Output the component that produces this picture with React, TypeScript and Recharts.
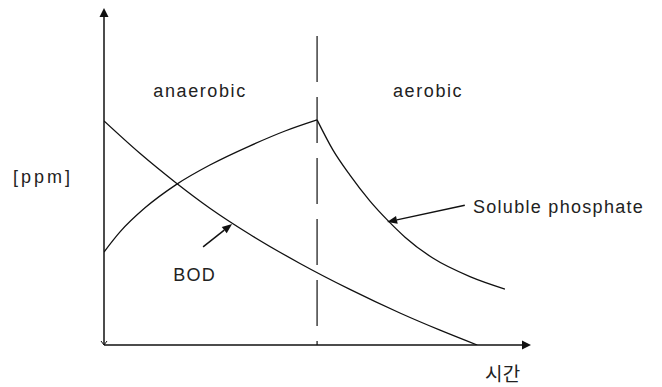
import React from "react";
import { LineChart, Line, XAxis, YAxis, ReferenceLine, ReferenceDot } from "recharts";

// Curves (time in %, concentration in %)
const bodData = [
  { x: 0, y: 66.5 }, { x: 8.4, y: 56.9 }, { x: 16.9, y: 48.1 }, { x: 24.8, y: 40.6 },
  { x: 34.2, y: 32.8 }, { x: 45.9, y: 24.2 }, { x: 57.6, y: 16.5 }, { x: 69.3, y: 9.5 },
  { x: 78.7, y: 4.4 }, { x: 87.4, y: 0 },
];
const phosphateAnaerobic = [
  { x: 0, y: 27.6 }, { x: 3.7, y: 33.5 }, { x: 9.6, y: 40.7 }, { x: 16.9, y: 47.6 },
  { x: 24.8, y: 53.4 }, { x: 34.2, y: 59.1 }, { x: 42.4, y: 63.5 }, { x: 49.9, y: 66.8 },
];
const phosphateAerobic = [
  { x: 49.9, y: 66.8 }, { x: 53.6, y: 57.9 }, { x: 57.6, y: 50.4 }, { x: 62.3, y: 42.7 },
  { x: 66.5, y: 36.9 }, { x: 70.5, y: 32.0 }, { x: 77.0, y: 25.8 }, { x: 85.7, y: 20.3 },
  { x: 93.9, y: 16.6 },
];

const phaseBoundary = 49.9;
const dashedTop = 91.7;

// annotation arrows [tail, tip]
const bodArrow = [{ x: 23.2, y: 29.1 }, { x: 30.0, y: 35.9 }];
const phosArrow = [{ x: 84.5, y: 41.5 }, { x: 66.3, y: 36.5 }];

// text labels: x, y (baseline), anchor
const labels = [
  { text: "anaerobic", x: 22.5, y: 73.6, anchor: "middle", size: 18, spacing: 1.6 },
  { text: "aerobic", x: 75.9, y: 73.6, anchor: "middle", size: 18, spacing: 1.6 },
  { text: "Soluble phosphate", x: 86.4, y: 39.2, anchor: "start", size: 18, spacing: 1.3 },
  { text: "BOD", x: 16.2, y: 19.0, anchor: "start", size: 18, spacing: 1.3 },
  { text: "[ppm]", x: -21.3, y: 48.1, anchor: "start", size: 18, spacing: 3 },
  { text: "시간", x: 89.2, y: -10.7, anchor: "start", size: 19, spacing: 0.5 },
];

const FONT = "'Liberation Sans', Arial, 'Noto Sans CJK KR', sans-serif";
const INK = "#111";

const arrowShape = (head: number, half: number, tailChevron = false) => (p: any) => {
  const x1 = Number(p.x1), y1 = Number(p.y1), x2 = Number(p.x2), y2 = Number(p.y2);
  const dx = x2 - x1, dy = y2 - y1;
  const len = Math.hypot(dx, dy) || 1;
  const ux = dx / len, uy = dy / len;
  const bx = x2 - ux * head, by = y2 - uy * head;
  const pts = `${x2},${y2} ${bx - uy * half},${by + ux * half} ${bx + uy * half},${by - ux * half}`;
  const chev = tailChevron
    ? `${x1 + ux * 4 - uy * 3},${y1 + uy * 4 + ux * 3} ${x1},${y1} ${x1 + ux * 4 + uy * 3},${y1 + uy * 4 - ux * 3}`
    : null;
  return (
    <g>
      <line x1={x1} y1={y1} x2={bx} y2={by} stroke={INK} strokeWidth={1.5} />
      <polygon points={pts} fill={INK} stroke="none" />
      {chev && <polyline points={chev} fill="none" stroke={INK} strokeWidth={1} />}
    </g>
  );
};

const textShape = (t: (typeof labels)[number]) => (p: any) => (
  <text
    x={p.cx}
    y={p.cy}
    textAnchor={t.anchor as any}
    fontFamily={FONT}
    fontSize={t.size}
    letterSpacing={t.spacing}
    fill="#222"
  >
    {t.text}
  </text>
);

export default function App() {
  return (
    <LineChart width={654} height={379} margin={{ top: 0, right: 131, bottom: 42, left: 96 }}>
      <XAxis type="number" dataKey="x" domain={[0, 100]} hide allowDataOverflow />
      <YAxis type="number" dataKey="y" domain={[0, 100]} hide allowDataOverflow />

      <ReferenceLine
        segment={[{ x: phaseBoundary, y: dashedTop }, { x: phaseBoundary, y: 0 }]}
        stroke={INK}
        strokeWidth={1.2}
        strokeDasharray="46 15"
        ifOverflow="visible"
      />

      <Line data={bodData} dataKey="y" type="monotone" stroke={INK} strokeWidth={1.3} dot={false} isAnimationActive={false} />
      <Line data={phosphateAnaerobic} dataKey="y" type="monotone" stroke={INK} strokeWidth={1.3} dot={false} isAnimationActive={false} />
      <Line data={phosphateAerobic} dataKey="y" type="monotone" stroke={INK} strokeWidth={1.3} dot={false} isAnimationActive={false} />

      <ReferenceLine segment={[{ x: 0, y: 0 }, { x: 100, y: 0 }]} ifOverflow="visible" shape={arrowShape(9, 4.5)} />
      <ReferenceLine segment={[{ x: 0, y: 0 }, { x: 0, y: 100 }]} ifOverflow="visible" shape={arrowShape(9, 4.5, true)} />
      <ReferenceLine segment={bodArrow} ifOverflow="visible" shape={arrowShape(10, 4)} />
      <ReferenceLine segment={phosArrow} ifOverflow="visible" shape={arrowShape(10, 4)} />

      {labels.map((t) => (
        <ReferenceDot key={t.text} x={t.x} y={t.y} r={0} ifOverflow="visible" shape={textShape(t)} />
      ))}
    </LineChart>
  );
}
